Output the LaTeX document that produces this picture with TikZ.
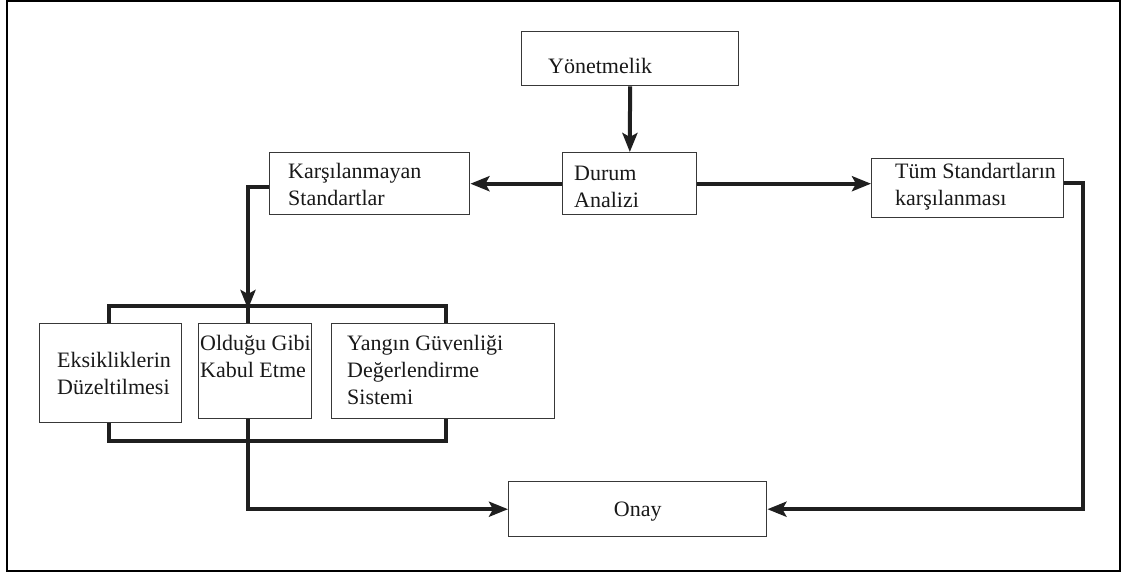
\documentclass[tikz,border=0pt]{standalone}
\usepackage{fontspec}
\setmainfont{Liberation Serif}
\usetikzlibrary{arrows.meta}
\begin{document}
\begin{tikzpicture}[x=1pt,y=-1pt,
  box/.style={draw=black!78,line width=1.4pt,fill=white,inner sep=0pt,anchor=north west},
  lbl/.style={anchor=base west,inner sep=0pt,font=\fontsize{22}{27}\selectfont,align=left,text=black!90},
  wire/.style={draw=black!88,line width=4pt,line join=miter},
  arr/.style={wire,-{Stealth[length=19pt,width=15pt,inset=4pt]}}]
\useasboundingbox (0,0) rectangle (1123,573);
\draw[line width=2pt] (7,1) rectangle (1120,571);

% boxes
\node[box,minimum width=217pt,minimum height=54pt] (yon)  at (521,31)  {};
\node[box,minimum width=134pt,minimum height=62pt] (dur)  at (562,152) {};
\node[box,minimum width=200pt,minimum height=62pt] (kar)  at (269,152) {};
\node[box,minimum width=192pt,minimum height=59pt] (tum)  at (871,158) {};
\node[box,minimum width=142pt,minimum height=99pt] (eks)  at (39,323)  {};
\node[box,minimum width=113pt,minimum height=95pt] (old)  at (198,323) {};
\node[box,minimum width=223pt,minimum height=95pt] (yan)  at (331,323) {};
\node[box,minimum width=258pt,minimum height=55pt] (onay) at (508,481) {};

% labels (anchored on the baseline of their last line)
\node[lbl] (tyon) at (548,73)  {Yönetmelik};
\node[lbl] (tdur) at (574,207) {Durum\\Analizi};
\node[lbl] (tkar) at (288,205) {Karşılanmayan\\Standartlar};
\node[lbl] (ttum) at (895,205) {Tüm Standartların\\karşılanması};
\node[lbl] (teks) at (57,394)  {Eksikliklerin\\Düzeltilmesi};
\node[lbl] (told) at (200,377) {Olduğu Gibi\\Kabul Etme};
\node[lbl] (tyan) at (347,404) {Yangın Güvenliği\\Değerlendirme\\Sistemi};
\node[lbl,anchor=base] (tonay) at (onay.center |- 0,516) {Onay};

% bracket corners
\coordinate (tl) at (109,306);
\coordinate (tm) at (248,306);
\coordinate (tr) at (446,306);
\coordinate (bl) at (109,441);
\coordinate (bm) at (248,441);
\coordinate (br) at (446,441);
\coordinate (kd) at (248,187);
\coordinate (ur) at (1083,183);

% connectors
\draw[arr] (yon) -- (dur);
\draw[arr] (dur.west) -- (kar.east);
\draw[arr] (dur.east) -- (dur.east -| tum.west);
\draw[arr] (kar.west |- kd) -- (kd) -- ([yshift=-3pt]tm);
\draw[wire] (tl |- eks.north) -- (tl) -- (tr) -- (tr |- yan.north);
\draw[wire] (tm) -- (tm |- old.north);
\draw[wire] (bl |- eks.south) -- (bl) -- (br) -- (br |- yan.south);
\draw[wire] (bm |- old.south) -- (bm);
\draw[arr] (bm) -- (bm |- onay.west) -- (onay.west);
\draw[arr] (tum.east |- ur) -- (ur) -- (ur |- onay.east) -- (onay.east);
\end{tikzpicture}
\end{document}
